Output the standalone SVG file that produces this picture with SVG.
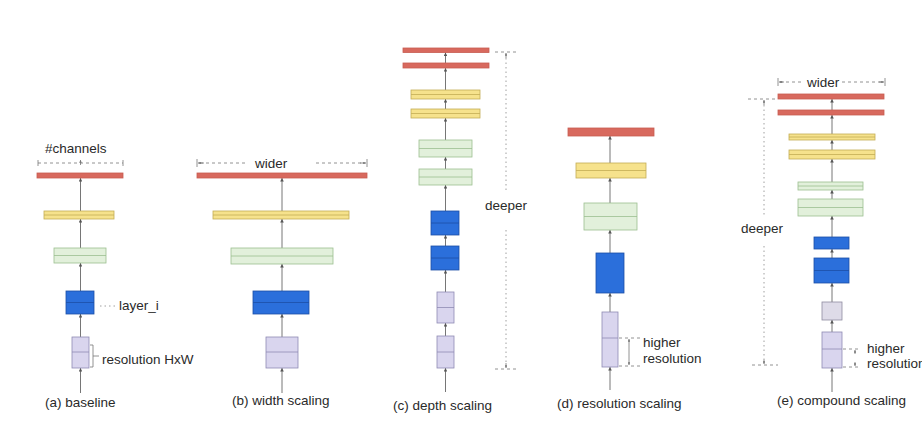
<svg xmlns="http://www.w3.org/2000/svg" width="922" height="427" viewBox="0 0 922 427">
<defs>
<marker id="ah" viewBox="0 0 6 6" refX="6" refY="3" markerWidth="4" markerHeight="4" orient="auto"><path d="M0,0 L6,3 L0,6 z" fill="#555"/></marker>
<marker id="sa" viewBox="0 0 6 6" refX="6" refY="3" markerWidth="3.5" markerHeight="3.5" orient="auto"><path d="M0,0 L6,3 L0,6 z" fill="#777"/></marker>
<style>
.t{font-family:"Liberation Sans",Arial,sans-serif;font-size:13.5px;fill:#2a2a2a}
.red{fill:#d8695e;stroke:#c85c52;stroke-width:0.8}
.yel{fill:#f6e28c;stroke:#c4ad55;stroke-width:0.8}
.grn{fill:#e2f0db;stroke:#9cbf90;stroke-width:0.8}
.blu{fill:#2b6fdb;stroke:#1d4fa6;stroke-width:0.8}
.pur{fill:#d9d5ee;stroke:#8f8ab3;stroke-width:0.8}
.gry{fill:#dedbe8;stroke:#8f8ca0;stroke-width:0.8}
.my{stroke:#c4ad55;stroke-width:0.8}
.mg{stroke:#9cbf90;stroke-width:0.8}
.mb{stroke:#1d4fa6;stroke-width:0.8}
.mp{stroke:#8f8ab3;stroke-width:0.8}
.c{stroke:#666;stroke-width:0.9;fill:none;marker-end:url(#ah)}
.d{stroke:#777;stroke-width:0.8;fill:none;stroke-dasharray:3 3}
.dt{stroke:#888;stroke-width:0.8;fill:none;stroke-dasharray:1.5 3}
.s{stroke:#777;stroke-width:0.8;fill:none}
</style>
</defs>
<rect width="922" height="427" fill="#fff"/>

<g id="connectors">
<line class="c" x1="80.5" y1="393" x2="80.5" y2="368"/>
<line class="c" x1="80.5" y1="337" x2="80.5" y2="314"/>
<line class="c" x1="80.5" y1="291" x2="80.5" y2="263"/>
<line class="c" x1="80.5" y1="248" x2="80.5" y2="219"/>
<line class="c" x1="80.5" y1="211" x2="80.5" y2="178"/>
<line class="c" x1="282" y1="393" x2="282" y2="368"/>
<line class="c" x1="282" y1="337" x2="282" y2="314"/>
<line class="c" x1="282" y1="291" x2="282" y2="264"/>
<line class="c" x1="282" y1="248" x2="282" y2="219"/>
<line class="c" x1="282" y1="211" x2="282" y2="178"/>
<line class="c" x1="445.5" y1="392" x2="445.5" y2="368"/>
<line class="c" x1="445.5" y1="336" x2="445.5" y2="323"/>
<line class="c" x1="445.5" y1="292" x2="445.5" y2="270"/>
<line class="c" x1="445.5" y1="246" x2="445.5" y2="235"/>
<line class="c" x1="445.5" y1="211" x2="445.5" y2="185"/>
<line class="c" x1="445.5" y1="169" x2="445.5" y2="157"/>
<line class="c" x1="445.5" y1="140" x2="445.5" y2="118"/>
<line class="c" x1="445.5" y1="109" x2="445.5" y2="99"/>
<line class="c" x1="445.5" y1="90" x2="445.5" y2="68"/>
<line class="c" x1="445.5" y1="63" x2="445.5" y2="52.5"/>
<line class="c" x1="610" y1="390" x2="610" y2="367"/>
<line class="c" x1="610" y1="312" x2="610" y2="293"/>
<line class="c" x1="610" y1="253" x2="610" y2="230"/>
<line class="c" x1="610" y1="203" x2="610" y2="178"/>
<line class="c" x1="610" y1="163" x2="610" y2="136"/>
<line class="c" x1="832" y1="392" x2="832" y2="368"/>
<line class="c" x1="832" y1="332" x2="832" y2="320"/>
<line class="c" x1="832" y1="302" x2="832" y2="283"/>
<line class="c" x1="832" y1="258" x2="832" y2="249"/>
<line class="c" x1="832" y1="237" x2="832" y2="216"/>
<line class="c" x1="832" y1="199" x2="832" y2="190"/>
<line class="c" x1="832" y1="182" x2="832" y2="159"/>
<line class="c" x1="832" y1="150" x2="832" y2="140"/>
<line class="c" x1="832" y1="134" x2="832" y2="115"/>
<line class="c" x1="832" y1="110" x2="832" y2="99"/>
</g>

<g id="panel-a">
<text class="t" x="45" y="153">#channels</text>
<line class="d" x1="38" y1="163" x2="123" y2="163"/>
<line class="s" x1="38" y1="160" x2="38" y2="166"/>
<line class="s" x1="123" y1="160" x2="123" y2="166"/>
<line class="s" x1="80.5" y1="165" x2="80.5" y2="160" marker-end="url(#sa)"/>
<rect class="red" x="37" y="173" width="86" height="5"/>
<rect class="yel" x="44" y="211" width="70" height="8"/><line class="my" x1="44" y1="215" x2="114" y2="215"/>
<rect class="grn" x="54" y="248" width="52" height="15"/><line class="mg" x1="54" y1="255.5" x2="106" y2="255.5"/>
<rect class="blu" x="66" y="291" width="28" height="23"/><line class="mb" x1="66" y1="302.5" x2="94" y2="302.5"/>
<line class="dt" x1="100" y1="306" x2="117" y2="306"/>
<text class="t" x="119" y="310">layer_i</text>
<rect class="pur" x="72" y="337" width="17" height="31"/><line class="mp" x1="72" y1="352" x2="89" y2="352"/>
<path class="s" d="M90,345 H93 V367 H90 M93,356 H99"/>
<text class="t" x="102" y="364">resolution HxW</text>
<text class="t" x="45" y="407">(a) baseline</text>
</g>

<g id="panel-b">
<line class="d" x1="200" y1="163" x2="246" y2="163"/>
<line class="d" x1="316" y1="163" x2="364" y2="163"/>
<line class="s" x1="204" y1="163" x2="198" y2="163" marker-end="url(#sa)"/>
<line class="s" x1="360" y1="163" x2="366" y2="163" marker-end="url(#sa)"/>
<line class="s" x1="197" y1="159" x2="197" y2="167"/>
<line class="s" x1="367" y1="159" x2="367" y2="167"/>
<text class="t" x="255" y="168">wider</text>
<rect class="red" x="197" y="173" width="170" height="5"/>
<rect class="yel" x="213" y="211" width="136" height="8"/><line class="my" x1="213" y1="215" x2="349" y2="215"/>
<rect class="grn" x="231" y="248" width="102" height="16"/><line class="mg" x1="231" y1="256" x2="333" y2="256"/>
<rect class="blu" x="253" y="291" width="56" height="23"/><line class="mb" x1="253" y1="302.5" x2="309" y2="302.5"/>
<rect class="pur" x="266" y="337" width="32" height="31"/><line class="mp" x1="266" y1="352" x2="298" y2="352"/>
<text class="t" x="232" y="405">(b) width scaling</text>
</g>

<g id="panel-c">
<rect class="red" x="403" y="48" width="86" height="4.5"/>
<rect class="red" x="403" y="63" width="86" height="5"/>
<rect class="yel" x="411" y="90" width="69" height="9"/><line class="my" x1="411" y1="94.5" x2="480" y2="94.5"/>
<rect class="yel" x="411" y="109" width="69" height="9"/><line class="my" x1="411" y1="113.5" x2="480" y2="113.5"/>
<rect class="grn" x="419" y="140" width="53" height="17"/><line class="mg" x1="419" y1="148.5" x2="472" y2="148.5"/>
<rect class="grn" x="419" y="169" width="53" height="16"/><line class="mg" x1="419" y1="177" x2="472" y2="177"/>
<rect class="blu" x="431" y="211" width="28" height="24"/><line class="mb" x1="431" y1="223" x2="459" y2="223"/>
<rect class="blu" x="431" y="246" width="28" height="24"/><line class="mb" x1="431" y1="258" x2="459" y2="258"/>
<rect class="pur" x="437" y="292" width="17" height="31"/><line class="mp" x1="437" y1="307.5" x2="454" y2="307.5"/>
<rect class="pur" x="437" y="336" width="17" height="32"/><line class="mp" x1="437" y1="352" x2="454" y2="352"/>
<line class="d" x1="495" y1="52" x2="517" y2="52"/>
<line class="d" x1="495" y1="369" x2="517" y2="369"/>
<line class="dt" x1="506" y1="58" x2="506" y2="190"/>
<line class="dt" x1="506" y1="230" x2="506" y2="363"/>
<line class="s" x1="506" y1="58" x2="506" y2="53" marker-end="url(#sa)"/>
<line class="s" x1="506" y1="363" x2="506" y2="368" marker-end="url(#sa)"/>
<text class="t" x="485" y="210">deeper</text>
<text class="t" x="393" y="410">(c) depth scaling</text>
</g>

<g id="panel-d">
<rect class="red" x="568" y="128" width="86" height="8"/>
<rect class="yel" x="576" y="163" width="70" height="15"/><line class="my" x1="576" y1="170.5" x2="646" y2="170.5"/>
<rect class="grn" x="584" y="203" width="53" height="27"/><line class="mg" x1="584" y1="216.5" x2="637" y2="216.5"/>
<rect class="blu" x="596" y="253" width="28" height="40"/>
<rect class="pur" x="602" y="312" width="16" height="55"/><line class="mp" x1="602" y1="338" x2="618" y2="338"/>
<line class="d" x1="619" y1="338" x2="640" y2="338"/>
<line class="d" x1="619" y1="366" x2="640" y2="366"/>
<line class="s" x1="629" y1="344" x2="629" y2="339" marker-end="url(#sa)"/>
<line class="s" x1="629" y1="344" x2="629" y2="365" marker-end="url(#sa)"/>
<text class="t" x="643" y="347">higher</text>
<text class="t" x="643" y="363">resolution</text>
<text class="t" x="557" y="408">(d) resolution scaling</text>
</g>

<g id="panel-e">
<line class="d" x1="780" y1="82" x2="803" y2="82"/>
<line class="d" x1="842" y1="82" x2="883" y2="82"/>
<line class="s" x1="784" y1="82" x2="779" y2="82" marker-end="url(#sa)"/>
<line class="s" x1="879" y1="82" x2="884" y2="82" marker-end="url(#sa)"/>
<line class="s" x1="778" y1="78" x2="778" y2="86"/>
<line class="s" x1="885" y1="78" x2="885" y2="86"/>
<text class="t" x="807" y="87">wider</text>
<rect class="red" x="778" y="94" width="106" height="5"/>
<rect class="red" x="778" y="110" width="106" height="5"/>
<rect class="yel" x="789" y="134" width="86" height="6"/><line class="my" x1="789" y1="137" x2="875" y2="137"/>
<rect class="yel" x="789" y="150" width="86" height="9"/><line class="my" x1="789" y1="154.5" x2="875" y2="154.5"/>
<rect class="grn" x="798" y="182" width="65" height="8"/><line class="mg" x1="798" y1="186" x2="863" y2="186"/>
<rect class="grn" x="798" y="199" width="65" height="17"/><line class="mg" x1="798" y1="207.5" x2="863" y2="207.5"/>
<rect class="blu" x="814" y="237" width="35" height="12"/>
<rect class="blu" x="814" y="258" width="35" height="25"/><line class="mb" x1="814" y1="270.5" x2="849" y2="270.5"/>
<rect class="gry" x="822" y="302" width="20" height="18"/>
<rect class="pur" x="822" y="332" width="20" height="36"/><line class="mp" x1="822" y1="349" x2="842" y2="349"/>
<line class="d" x1="843" y1="349" x2="860" y2="349"/>
<line class="d" x1="843" y1="367" x2="860" y2="367"/>
<line class="s" x1="855" y1="354" x2="855" y2="350" marker-end="url(#sa)"/>
<line class="s" x1="855" y1="362" x2="855" y2="366" marker-end="url(#sa)"/>
<text class="t" x="867" y="353">higher</text>
<text class="t" x="867" y="368">resolution</text>
<line class="d" x1="748" y1="99" x2="778" y2="99"/>
<line class="d" x1="752" y1="365" x2="778" y2="365"/>
<line class="dt" x1="764" y1="105" x2="764" y2="216"/>
<line class="dt" x1="764" y1="246" x2="764" y2="359"/>
<line class="s" x1="764" y1="105" x2="764" y2="100" marker-end="url(#sa)"/>
<line class="s" x1="764" y1="359" x2="764" y2="364" marker-end="url(#sa)"/>
<text class="t" x="741" y="233">deeper</text>
<text class="t" x="777" y="405">(e) compound scaling</text>
</g>
</svg>
